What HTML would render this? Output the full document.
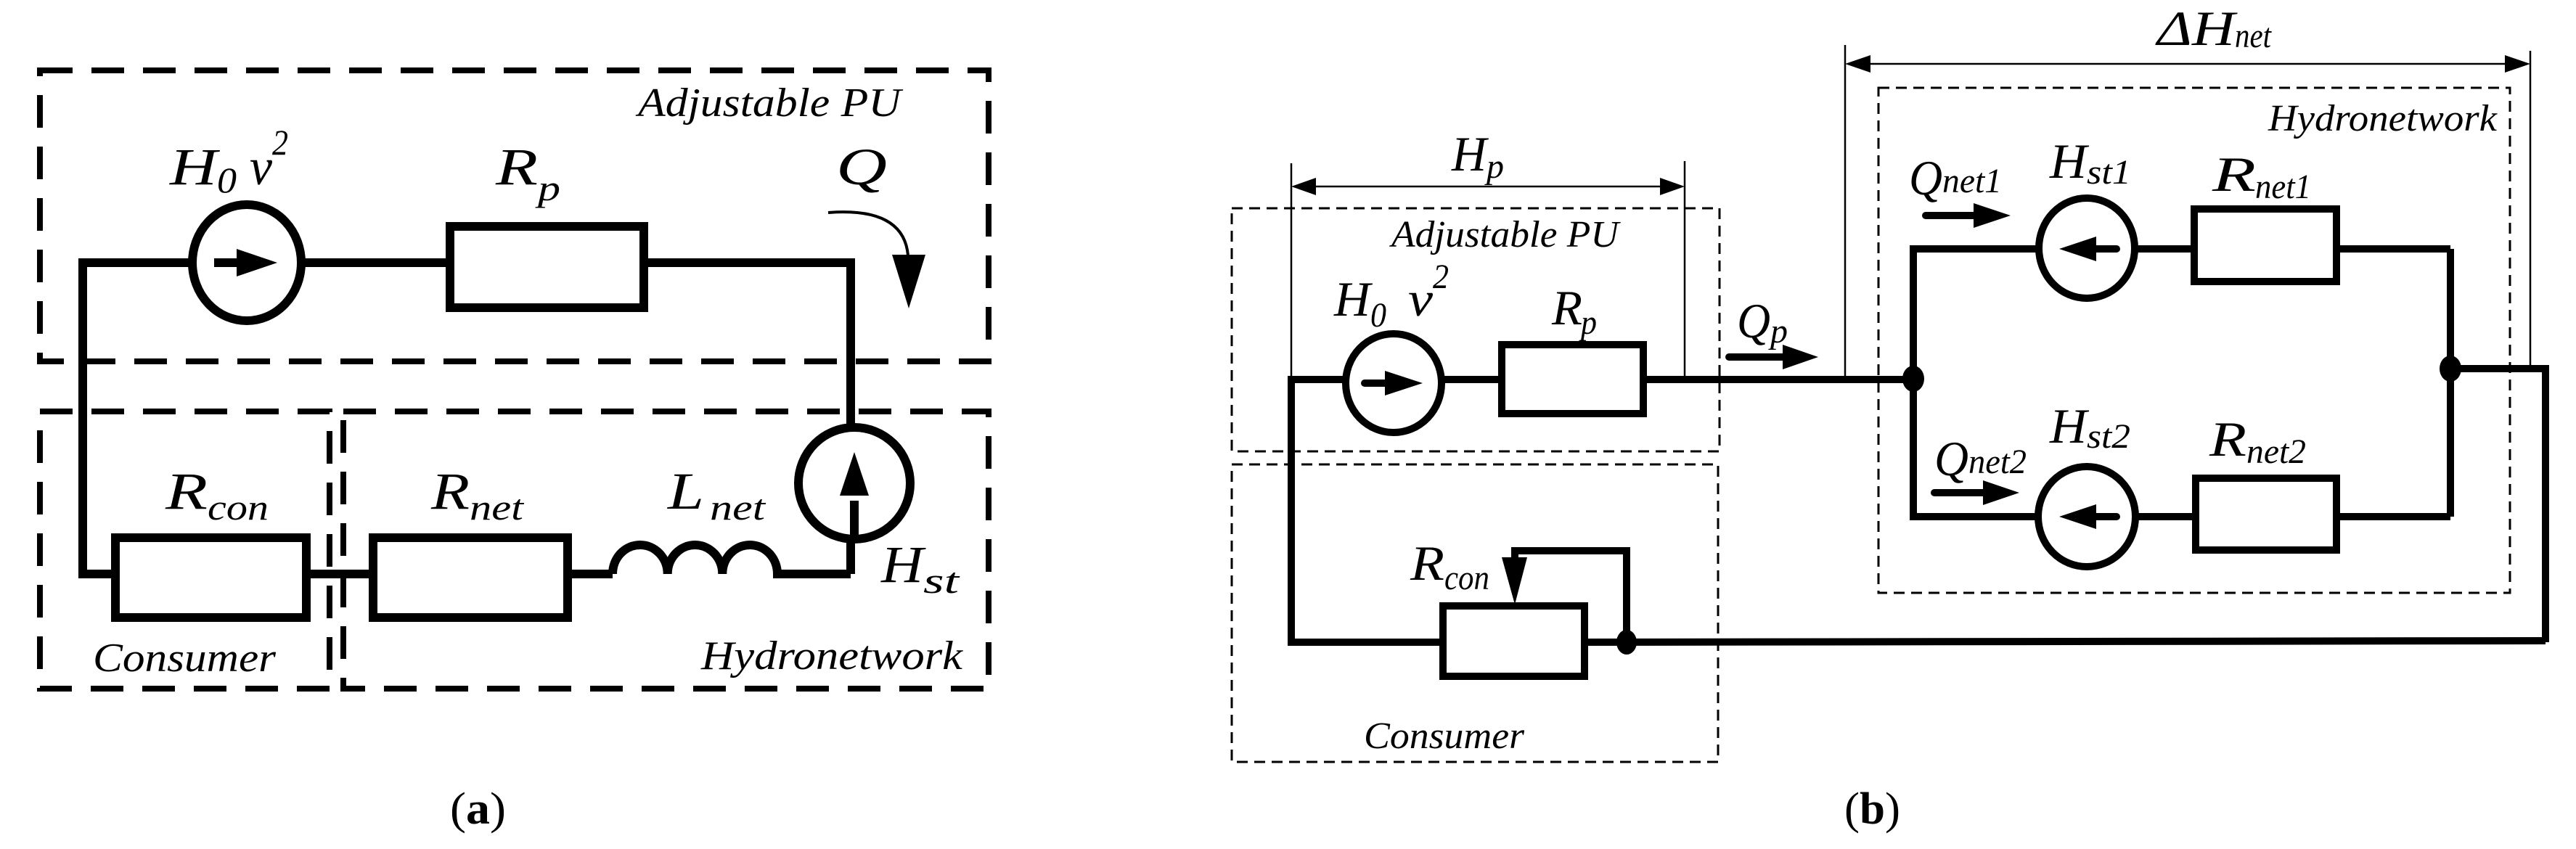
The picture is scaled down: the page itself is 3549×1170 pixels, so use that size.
<!DOCTYPE html>
<html><head><meta charset="utf-8"><style>
html,body{margin:0;padding:0;background:#fff;}
svg{display:block;}
text{font-family:"Liberation Serif",serif;font-style:italic;fill:#000;}
</style></head><body>
<svg width="3549" height="1170" viewBox="0 0 3549 1170" xmlns="http://www.w3.org/2000/svg">
<rect width="3549" height="1170" fill="#fff"/>
<!-- ===== Panel (a) ===== -->
<g fill="none" stroke="#000" stroke-width="8" stroke-dasharray="45 26">
<rect x="55" y="97" width="1307" height="401"/>
<rect x="55" y="567" width="399" height="382"/>
<rect x="473" y="567" width="889" height="382"/>
</g>
<g fill="none" stroke="#000" stroke-width="12" stroke-linejoin="miter">
<polyline points="265,362 114,362 114,791 159,791"/>
<line x1="415" y1="362" x2="620" y2="362"/>
<polyline points="887,362 1172,362 1172,590"/>
<ellipse cx="340" cy="362" rx="75" ry="80"/>
<rect x="620" y="312" width="267" height="112"/>
<ellipse cx="1177" cy="666" rx="77" ry="77"/>
<line x1="1172" y1="743" x2="1172" y2="791"/>
<rect x="159" y="741" width="263" height="110"/>
<line x1="422" y1="791" x2="514" y2="791"/>
<rect x="514" y="741" width="268" height="110"/>
<line x1="782" y1="791" x2="844" y2="791"/>
<path d="M844 791 A37.8 40 0 0 1 919.7 791 A37.8 40 0 0 1 995.3 791 A37.8 40 0 0 1 1071 791 L1172 791"/>
<line x1="295" y1="362" x2="340" y2="362"/>
<line x1="1177" y1="746" x2="1177" y2="690"/>
</g>
<path d="M1141 293 Q1245 285 1251 352" fill="none" stroke="#000" stroke-width="4"/>
<polygon points="1229,351 1275,351 1252,425" fill="#000"/>
<polygon points="326,343 382,362 326,381" fill="#000"/>
<polygon points="1157,683 1197,683 1177,623" fill="#000"/>
<text x="879" y="160" font-size="56" textLength="362" lengthAdjust="spacingAndGlyphs">Adjustable PU</text>
<text x="234" y="254" font-size="72" textLength="65" lengthAdjust="spacingAndGlyphs">H</text>
<text x="299" y="265" font-size="50" textLength="27" lengthAdjust="spacingAndGlyphs">0</text>
<text x="344" y="254" font-size="72" textLength="31" lengthAdjust="spacingAndGlyphs">ν</text>
<text x="375" y="213" font-size="50" textLength="22" lengthAdjust="spacingAndGlyphs">2</text>
<text x="683" y="254" font-size="72" textLength="58" lengthAdjust="spacingAndGlyphs">R</text>
<text x="741" y="276" font-size="50" textLength="31" lengthAdjust="spacingAndGlyphs">p</text>
<text x="1152" y="254" font-size="72" textLength="70" lengthAdjust="spacingAndGlyphs">Q</text>
<text x="228" y="701" font-size="72" textLength="58" lengthAdjust="spacingAndGlyphs">R</text>
<text x="286" y="716" font-size="50" textLength="84" lengthAdjust="spacingAndGlyphs">con</text>
<text x="594" y="701" font-size="72" textLength="53" lengthAdjust="spacingAndGlyphs">R</text>
<text x="647" y="716" font-size="50" textLength="74" lengthAdjust="spacingAndGlyphs">net</text>
<text x="920" y="701" font-size="72" textLength="50" lengthAdjust="spacingAndGlyphs">L</text>
<text x="978" y="716" font-size="50" textLength="76" lengthAdjust="spacingAndGlyphs">net</text>
<text x="1214" y="802" font-size="72" textLength="58" lengthAdjust="spacingAndGlyphs">H</text>
<text x="1272" y="817" font-size="50" textLength="49" lengthAdjust="spacingAndGlyphs">st</text>
<text x="128" y="925" font-size="56" textLength="252" lengthAdjust="spacingAndGlyphs">Consumer</text>
<text x="966" y="922" font-size="56" textLength="360" lengthAdjust="spacingAndGlyphs">Hydronetwork</text>
<text x="620" y="1135" font-size="62" font-style="normal" style="font-style:normal" textLength="77" lengthAdjust="spacingAndGlyphs">(<tspan font-weight="bold">a</tspan>)</text>

<!-- ===== Panel (b) ===== -->
<g fill="none" stroke="#000" stroke-width="3" stroke-dasharray="15 9">
<rect x="1697" y="287" width="672" height="335"/>
<rect x="1697" y="640" width="670" height="410"/>
<rect x="2588" y="121" width="870" height="696"/>
</g>
<g stroke="#000" stroke-width="2.5">
<line x1="1779" y1="225" x2="1779" y2="523"/>
<line x1="2321" y1="222" x2="2321" y2="523"/>
<line x1="1813" y1="257" x2="2287" y2="257"/>
<line x1="2542" y1="62" x2="2542" y2="523"/>
<line x1="3486" y1="70" x2="3486" y2="508"/>
<line x1="2577" y1="88" x2="3452" y2="88"/>
</g>
<polygon points="1779,257 1813,245 1813,269" fill="#000"/>
<polygon points="2321,257 2287,245 2287,269" fill="#000"/>
<polygon points="2542,88 2577,76 2577,100" fill="#000"/>
<polygon points="3486,88 3451,76 3451,100" fill="#000"/>
<g fill="none" stroke="#000" stroke-width="10">
<polyline points="1854,523 1779,523 1779,885 1988,885"/>
<line x1="1986" y1="523" x2="2069" y2="523"/>
<line x1="2264" y1="523" x2="2636" y2="523"/>
<ellipse cx="1920" cy="528" rx="66" ry="68"/>
<rect x="2069" y="475" width="195" height="95"/>
<rect x="1988" y="835" width="195" height="97"/>
<line x1="2183" y1="885" x2="3507" y2="883"/>
<polyline points="2241,885 2241,759 2087,759 2087,775"/>
<polyline points="2809,343 2636,343 2636,712 2808,712"/>
<line x1="2941" y1="343" x2="3023" y2="343"/>
<line x1="3219" y1="343" x2="3376" y2="343"/>
<line x1="3376" y1="343" x2="3376" y2="712"/>
<line x1="2942" y1="712" x2="3025" y2="712"/>
<line x1="3219" y1="712" x2="3376" y2="712"/>
<ellipse cx="2875" cy="342" rx="66" ry="69"/>
<rect x="3023" y="288" width="196" height="100"/>
<ellipse cx="2875" cy="712" rx="67" ry="69"/>
<rect x="3025" y="659" width="194" height="99"/>
<polyline points="3376,508 3507,508 3507,885"/>
</g>
<g stroke="#000" stroke-width="10" stroke-linecap="round">
<line x1="1880" y1="528" x2="1915" y2="528"/>
<line x1="2382" y1="492" x2="2460" y2="492"/>
<line x1="2653" y1="297" x2="2722" y2="297"/>
<line x1="2665" y1="679" x2="2735" y2="679"/>
<line x1="2916" y1="343" x2="2885" y2="343"/>
<line x1="2916" y1="712" x2="2885" y2="712"/>
</g>
<polygon points="1908,511 1960,528 1908,545" fill="#000"/>
<polygon points="2456,475 2505,492 2456,509" fill="#000"/>
<polygon points="2719,280 2770,297 2719,314" fill="#000"/>
<polygon points="2732,662 2782,679 2732,696" fill="#000"/>
<polygon points="2888,326 2837,343 2888,360" fill="#000"/>
<polygon points="2888,695 2837,712 2888,729" fill="#000"/>
<polygon points="2069,768 2104,768 2087,833" fill="#000"/>
<g fill="#000">
<ellipse cx="2636" cy="522" rx="15" ry="18"/>
<ellipse cx="3376" cy="508" rx="15" ry="18"/>
<ellipse cx="2241" cy="885" rx="14" ry="17"/>
</g>
<text x="2972" y="62" font-size="68" textLength="107" lengthAdjust="spacingAndGlyphs">ΔH</text>
<text x="3079" y="65" font-size="48" textLength="50" lengthAdjust="spacingAndGlyphs">net</text>
<text x="2000" y="235" font-size="68" textLength="48" lengthAdjust="spacingAndGlyphs">H</text>
<text x="2048" y="245" font-size="48" textLength="24" lengthAdjust="spacingAndGlyphs">p</text>
<text x="1917" y="340" font-size="52" textLength="313" lengthAdjust="spacingAndGlyphs">Adjustable PU</text>
<text x="1838" y="435" font-size="68" textLength="50" lengthAdjust="spacingAndGlyphs">H</text>
<text x="1888" y="450" font-size="48" textLength="22" lengthAdjust="spacingAndGlyphs">0</text>
<text x="1940" y="435" font-size="68" textLength="34" lengthAdjust="spacingAndGlyphs">ν</text>
<text x="1974" y="397" font-size="48" textLength="22" lengthAdjust="spacingAndGlyphs">2</text>
<text x="2138" y="447" font-size="68" textLength="42" lengthAdjust="spacingAndGlyphs">R</text>
<text x="2178" y="460" font-size="48" textLength="22" lengthAdjust="spacingAndGlyphs">p</text>
<text x="2393" y="465" font-size="68" textLength="46" lengthAdjust="spacingAndGlyphs">Q</text>
<text x="2439" y="472" font-size="48" textLength="24" lengthAdjust="spacingAndGlyphs">p</text>
<text x="1943" y="799" font-size="68" textLength="47" lengthAdjust="spacingAndGlyphs">R</text>
<text x="1990" y="812" font-size="48" textLength="62" lengthAdjust="spacingAndGlyphs">con</text>
<text x="1879" y="1031" font-size="52" textLength="221" lengthAdjust="spacingAndGlyphs">Consumer</text>
<text x="3125" y="180" font-size="52" textLength="315" lengthAdjust="spacingAndGlyphs">Hydronetwork</text>
<text x="2630" y="268" font-size="68" textLength="46" lengthAdjust="spacingAndGlyphs">Q</text>
<text x="2676" y="265" font-size="48" textLength="82" lengthAdjust="spacingAndGlyphs">net1</text>
<text x="2824" y="245" font-size="68" textLength="51" lengthAdjust="spacingAndGlyphs">H</text>
<text x="2875" y="253" font-size="48" textLength="61" lengthAdjust="spacingAndGlyphs">st1</text>
<text x="3048" y="263" font-size="68" textLength="60" lengthAdjust="spacingAndGlyphs">R</text>
<text x="3107" y="273" font-size="48" textLength="77" lengthAdjust="spacingAndGlyphs">net1</text>
<text x="2665" y="655" font-size="68" textLength="47" lengthAdjust="spacingAndGlyphs">Q</text>
<text x="2712" y="652" font-size="48" textLength="80" lengthAdjust="spacingAndGlyphs">net2</text>
<text x="2824" y="610" font-size="68" textLength="51" lengthAdjust="spacingAndGlyphs">H</text>
<text x="2875" y="617" font-size="48" textLength="60" lengthAdjust="spacingAndGlyphs">st2</text>
<text x="3044" y="628" font-size="68" textLength="51" lengthAdjust="spacingAndGlyphs">R</text>
<text x="3095" y="638" font-size="48" textLength="82" lengthAdjust="spacingAndGlyphs">net2</text>
<text x="2541" y="1135" font-size="62" style="font-style:normal" textLength="77" lengthAdjust="spacingAndGlyphs">(<tspan font-weight="bold">b</tspan>)</text>
</svg>
</body></html>
